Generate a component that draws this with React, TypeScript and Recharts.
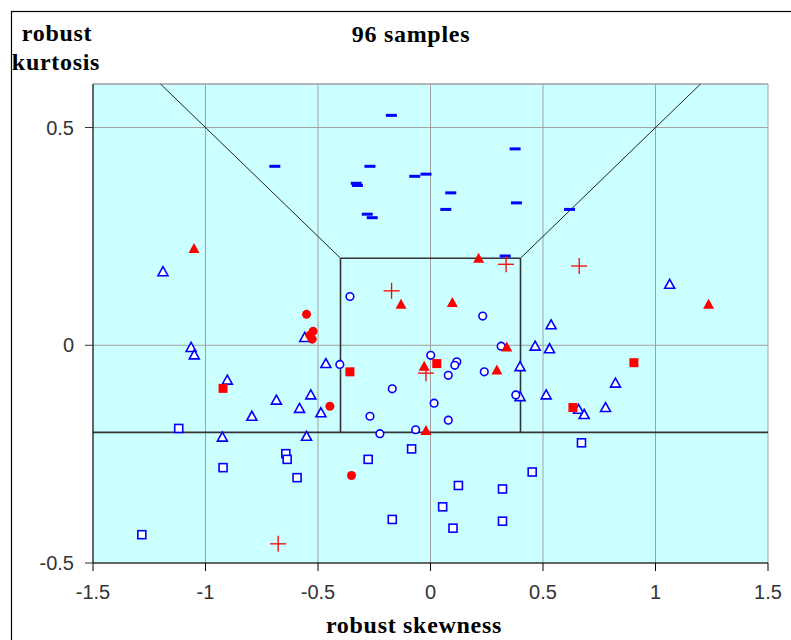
import React from 'react';
import { ScatterChart, Scatter, XAxis, YAxis, CartesianGrid, ReferenceLine } from 'recharts';

type P = { x: number; y: number };

const xTicks = [-1.5, -1, -0.5, 0, 0.5, 1, 1.5];
const yTicks = [-0.5, 0, 0.5];

const blueDash: P[] = [
  { x: -0.692, y: 0.411 }, { x: -0.174, y: 0.528 }, { x: -0.269, y: 0.411 },
  { x: -0.33, y: 0.372 }, { x: -0.325, y: 0.367 }, { x: -0.07, y: 0.388 },
  { x: -0.02, y: 0.393 }, { x: 0.09, y: 0.35 }, { x: 0.068, y: 0.312 },
  { x: -0.281, y: 0.301 }, { x: -0.259, y: 0.293 }, { x: 0.376, y: 0.451 },
  { x: 0.382, y: 0.327 }, { x: 0.618, y: 0.312 }, { x: 0.332, y: 0.205 },
];

const blueTriangle: P[] = [
  { x: -1.189, y: 0.169 }, { x: -1.064, y: -0.005 }, { x: -1.05, y: -0.022 },
  { x: -0.903, y: -0.08 }, { x: -0.794, y: -0.163 }, { x: -0.685, y: -0.126 },
  { x: -0.582, y: -0.145 }, { x: -0.532, y: -0.114 }, { x: -0.487, y: -0.155 },
  { x: -0.465, y: -0.042 }, { x: -0.559, y: 0.018 }, { x: -0.925, y: -0.211 },
  { x: -0.551, y: -0.209 }, { x: 0.536, y: 0.047 }, { x: 1.063, y: 0.14 },
  { x: 0.465, y: -0.002 }, { x: 0.529, y: -0.008 }, { x: 0.398, y: -0.049 },
  { x: 0.822, y: -0.087 }, { x: 0.398, y: -0.118 }, { x: 0.514, y: -0.114 },
  { x: 0.778, y: -0.143 }, { x: 0.658, y: -0.147 }, { x: 0.683, y: -0.159 },
];

const blueCircle: P[] = [
  { x: -0.358, y: 0.112 }, { x: -0.403, y: -0.044 }, { x: -0.17, y: -0.1 },
  { x: -0.269, y: -0.163 }, { x: -0.225, y: -0.203 }, { x: -0.066, y: -0.194 },
  { x: 0.001, y: -0.023 }, { x: 0.016, y: -0.133 }, { x: 0.232, y: 0.067 },
  { x: 0.314, y: -0.002 }, { x: 0.117, y: -0.038 }, { x: 0.108, y: -0.046 },
  { x: 0.079, y: -0.069 }, { x: 0.239, y: -0.061 }, { x: 0.379, y: -0.114 },
  { x: 0.079, y: -0.172 },
];

const blueSquare: P[] = [
  { x: -1.119, y: -0.191 }, { x: -0.922, y: -0.281 }, { x: -0.643, y: -0.249 },
  { x: -0.637, y: -0.262 }, { x: -0.593, y: -0.304 }, { x: -0.277, y: -0.262 },
  { x: -0.084, y: -0.238 }, { x: -0.17, y: -0.4 }, { x: -1.283, y: -0.435 },
  { x: 0.671, y: -0.224 }, { x: 0.452, y: -0.291 }, { x: 0.124, y: -0.322 },
  { x: 0.32, y: -0.33 }, { x: 0.054, y: -0.371 }, { x: 0.1, y: -0.42 },
  { x: 0.32, y: -0.404 },
];

const redTriangle: P[] = [
  { x: -1.051, y: 0.222 }, { x: 0.214, y: 0.2 }, { x: -0.131, y: 0.094 },
  { x: 0.097, y: 0.098 }, { x: 0.339, y: -0.004 }, { x: 0.295, y: -0.057 },
  { x: -0.028, y: -0.048 }, { x: -0.02, y: -0.196 }, { x: 1.236, y: 0.094 },
];

const redCircle: P[] = [
  { x: -0.551, y: 0.071 }, { x: -0.522, y: 0.032 }, { x: -0.536, y: 0.023 },
  { x: -0.526, y: 0.014 }, { x: -0.447, y: -0.14 }, { x: -0.351, y: -0.299 },
];

const redSquare: P[] = [
  { x: -0.922, y: -0.099 }, { x: -0.358, y: -0.061 }, { x: 0.028, y: -0.042 },
  { x: 0.904, y: -0.04 }, { x: 0.633, y: -0.143 },
];

const redPlus: P[] = [
  { x: -0.173, y: 0.125 }, { x: 0.336, y: 0.186 }, { x: 0.661, y: 0.182 },
  { x: -0.02, y: -0.064 }, { x: -0.677, y: -0.456 },
];

// boundary lines of the acceptance region
const boundaryThick: [P, P][] = [
  [{ x: -1.5, y: -0.2 }, { x: 1.5, y: -0.2 }],
  [{ x: -0.4, y: -0.2 }, { x: -0.4, y: 0.2 }],
  [{ x: 0.4, y: -0.2 }, { x: 0.4, y: 0.2 }],
  [{ x: -0.4, y: 0.2 }, { x: 0.4, y: 0.2 }],
];
const boundaryThin: [P, P][] = [
  [{ x: -0.4, y: 0.2 }, { x: -1.2, y: 0.6 }],
  [{ x: 0.4, y: 0.2 }, { x: 1.2, y: 0.6 }],
];

const BLUE = '#0000ff';
const RED = '#ff0000';

const Dash = (p: any) => <rect x={p.cx - 5.5} y={p.cy - 1.5} width={11} height={3} fill={BLUE} />;
const OpenTri = (p: any) => (
  <polygon
    points={`${p.cx},${p.cy - 5} ${p.cx + 5},${p.cy + 4} ${p.cx - 5},${p.cy + 4}`}
    fill="#ffffff" stroke={BLUE} strokeWidth={1.6} />
);
const OpenCircle = (p: any) => <circle cx={p.cx} cy={p.cy} r={3.8} fill="#ffffff" stroke={BLUE} strokeWidth={1.6} />;
const OpenSquare = (p: any) => <rect x={p.cx - 4} y={p.cy - 4} width={8} height={8} fill="#ffffff" stroke={BLUE} strokeWidth={1.6} />;
const FillTri = (p: any) => (
  <polygon points={`${p.cx},${p.cy - 5.5} ${p.cx + 5.5},${p.cy + 4.5} ${p.cx - 5.5},${p.cy + 4.5}`} fill={RED} />
);
const FillCircle = (p: any) => <circle cx={p.cx} cy={p.cy} r={4.5} fill={RED} />;
const FillSquare = (p: any) => <rect x={p.cx - 4.5} y={p.cy - 4.5} width={9} height={9} fill={RED} />;
const Plus = (p: any) => (
  <g stroke={RED} strokeWidth={1.3}>
    <line x1={p.cx - 8} y1={p.cy} x2={p.cx + 8} y2={p.cy} />
    <line x1={p.cx} y1={p.cy - 8} x2={p.cx} y2={p.cy + 8} />
  </g>
);

const tickStyle = { fontFamily: '"Liberation Sans", Arial, sans-serif', fontSize: 20, fill: '#333' };
const titleFont = '"Liberation Serif", "Times New Roman", serif';

export default function App() {
  return (
    <div style={{ position: 'absolute', left: 0, top: 0, width: 791, height: 640, overflow: 'hidden', background: '#fff' }}>
      <ScatterChart width={791} height={640} margin={{ top: 84, right: 23, bottom: 47, left: 33 }}>
        <CartesianGrid stroke="#a0a0a0" fill="#ccffff" fillOpacity={1} />
        <XAxis type="number" dataKey="x" domain={[-1.5, 1.5]} ticks={xTicks} height={30}
          tickSize={8} tickMargin={14} tick={tickStyle} axisLine={{ stroke: '#000' }} tickLine={{ stroke: '#000' }}
          allowDataOverflow />
        <YAxis type="number" dataKey="y" domain={[-0.5, 0.6]} ticks={yTicks} width={60}
          tickSize={8} tickMargin={11} tick={tickStyle} axisLine={{ stroke: '#000' }} tickLine={{ stroke: '#333' }}
          allowDataOverflow />
        <ReferenceLine y={0.6} stroke="#a0a0a0" />
        {boundaryThick.map((s, i) => (
          <ReferenceLine key={'t' + i} segment={s} stroke="#333" strokeWidth={1.6} />
        ))}
        {boundaryThin.map((s, i) => (
          <ReferenceLine key={'n' + i} segment={s} stroke="#222" strokeWidth={1} />
        ))}
        <Scatter data={blueDash} shape={Dash} isAnimationActive={false} />
        <Scatter data={blueTriangle} shape={OpenTri} isAnimationActive={false} />
        <Scatter data={blueCircle} shape={OpenCircle} isAnimationActive={false} />
        <Scatter data={blueSquare} shape={OpenSquare} isAnimationActive={false} />
        <Scatter data={redTriangle} shape={FillTri} isAnimationActive={false} />
        <Scatter data={redCircle} shape={FillCircle} isAnimationActive={false} />
        <Scatter data={redSquare} shape={FillSquare} isAnimationActive={false} />
        <Scatter data={redPlus} shape={Plus} isAnimationActive={false} />
      </ScatterChart>
      <svg width={791} height={640} style={{ position: 'absolute', left: 0, top: 0, pointerEvents: 'none' }}>
        <rect x={11.5} y={11.5} width={900} height={900} fill="none" stroke="#000" strokeWidth={1.2} />
        <g fontFamily={titleFont} fontWeight="bold" fontSize={24} fill="#000" letterSpacing={0.7}>
          <text x={411} y={42} textAnchor="middle">96 samples</text>
          <text x={57} y={41} textAnchor="middle">robust</text>
          <text x={56} y={70} textAnchor="middle">kurtosis</text>
          <text x={414} y={633} textAnchor="middle">robust skewness</text>
        </g>
      </svg>
    </div>
  );
}
